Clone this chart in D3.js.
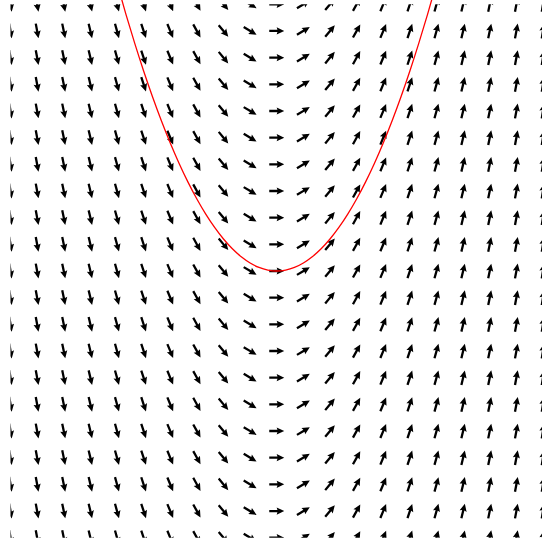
<!DOCTYPE html>
<html>
<head>
<meta charset="utf-8">
<script src="https://cdn.jsdelivr.net/npm/d3@7"></script>
<style>
  html, body { margin: 0; padding: 0; background: #fff; }
  svg { display: block; }
</style>
</head>
<body>
<svg id="chart" width="542" height="541"></svg>
<script>
// Grid of sample points for the direction field dy/dx = 2x
const gridX = [-3, -2.7, -2.4, -2.1, -1.8, -1.5, -1.2, -0.9, -0.6, -0.3, 0,
               0.3, 0.6, 0.9, 1.2, 1.5, 1.8, 2.1, 2.4, 2.7, 3];
const gridY = [-3, -2.7, -2.4, -2.1, -1.8, -1.5, -1.2, -0.9, -0.6, -0.3, 0,
               0.3, 0.6, 0.9, 1.2, 1.5, 1.8, 2.1, 2.4, 2.7, 3];
// Slope 2x at each grid column
const slopes = [-6, -5.4, -4.8, -4.2, -3.6, -3, -2.4, -1.8, -1.2, -0.6, 0,
                0.6, 1.2, 1.8, 2.4, 3, 3.6, 4.2, 4.8, 5.4, 6];

// Solution curve y = x^2 through the origin
const curveX = [-1.9, -1.8, -1.7, -1.6, -1.5, -1.4, -1.3, -1.2, -1.1, -1.0,
                -0.9, -0.8, -0.7, -0.6, -0.5, -0.4, -0.3, -0.2, -0.1, 0,
                0.1, 0.2, 0.3, 0.4, 0.5, 0.6, 0.7, 0.8, 0.9, 1.0,
                1.1, 1.2, 1.3, 1.4, 1.5, 1.6, 1.7, 1.8, 1.9];
const curveY = [3.61, 3.24, 2.89, 2.56, 2.25, 1.96, 1.69, 1.44, 1.21, 1.0,
                0.81, 0.64, 0.49, 0.36, 0.25, 0.16, 0.09, 0.04, 0.01, 0,
                0.01, 0.04, 0.09, 0.16, 0.25, 0.36, 0.49, 0.64, 0.81, 1.0,
                1.21, 1.44, 1.69, 1.96, 2.25, 2.56, 2.89, 3.24, 3.61];

const svg = d3.select("#chart");
const W = 542, H = 541;

const x = d3.scaleLinear().domain([-3, 3]).range([10.5, 543]);
const y = d3.scaleLinear().domain([-3, 3]).range([537.7, 4.3]);

svg.append("rect").attr("width", W).attr("height", H).attr("fill", "#fff");

svg.append("defs").append("clipPath").attr("id", "plot-clip")
  .append("rect")
  .attr("x", x(-3)).attr("y", y(3))
  .attr("width", x(3) - x(-3)).attr("height", y(-3) - y(3));

// Arrow polygon along +x axis, centred on the origin (pivot in the middle)
const L = 15, sw = 2.3, hw = 7.2, hl = 7.6, hal = 6.8;
const arrowPts = [
  [0, -sw / 2], [L - hal, -sw / 2], [L - hl, -hw / 2], [L, 0],
  [L - hl, hw / 2], [L - hal, sw / 2], [0, sw / 2]
].map(([a, b]) => [a - L / 2, b]);
const arrowPath = "M" + arrowPts.map(p => p.join(",")).join("L") + "Z";

const cells = [];
gridX.forEach((gx, i) => {
  gridY.forEach(gy => {
    cells.push({ gx, gy, s: slopes[i] });
  });
});

const field = svg.append("g").attr("clip-path", "url(#plot-clip)");
field.selectAll("path.arrow")
  .data(cells)
  .join("path")
  .attr("class", "arrow")
  .attr("d", arrowPath)
  .attr("fill", "#000")
  .attr("transform", d => {
    // direction (1, s) in data space, mapped through the scales
    const dx = x(d.gx + 0.01) - x(d.gx);
    const dy = y(d.gy + 0.01 * d.s) - y(d.gy);
    const ang = Math.atan2(dy, dx) * 180 / Math.PI;
    return `translate(${x(d.gx)},${y(d.gy)}) rotate(${ang})`;
  });

const line = d3.line()
  .x(d => x(d[0]))
  .y(d => y(d[1]))
  .curve(d3.curveNatural);

svg.append("path")
  .datum(curveX.map((cx, i) => [cx, curveY[i]]))
  .attr("d", line)
  .attr("fill", "none")
  .attr("stroke", "#ff0000")
  .attr("stroke-width", 1.3);
</script>
</body>
</html>
